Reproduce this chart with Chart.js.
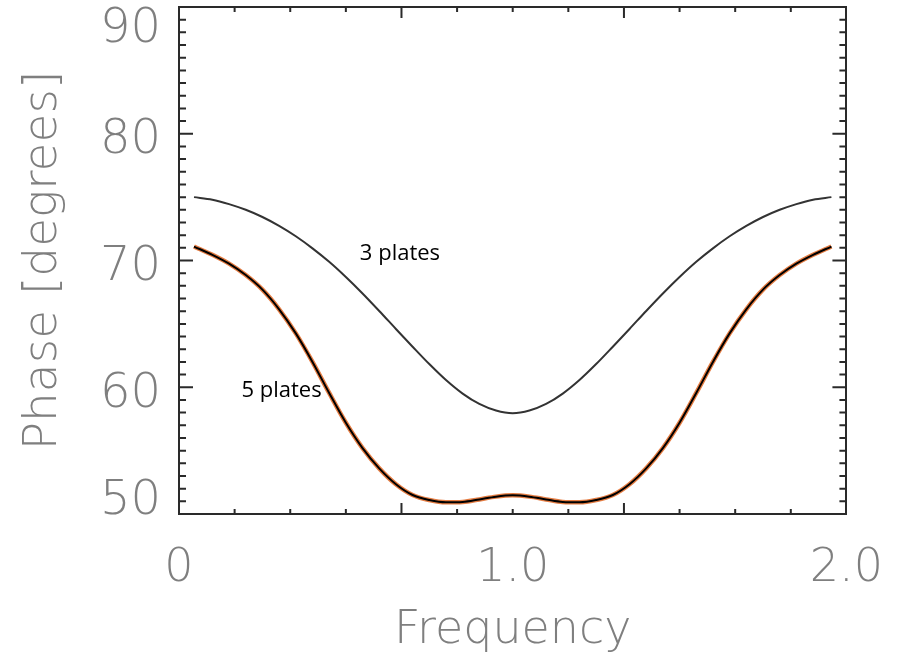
<!DOCTYPE html>
<html>
<head>
<meta charset="utf-8">
<script src="https://cdn.jsdelivr.net/npm/chart.js@4.4.0/dist/chart.umd.min.js"></script>
<style>
html,body{margin:0;padding:0;background:#fff}
#wrap{width:910px;height:659px}
</style>
</head>
<body>
<div id="wrap"><canvas id="chartPhase" width="910" height="659"></canvas></div>
<script>
// frequency samples and phase
const freq=[0.045,0.1,0.15,0.2,0.25,0.3,0.35,0.4,0.45,0.5,0.55,0.6,0.65,0.7,0.75,0.8,0.85,0.9,0.95,1.0,
    1.05,1.1,1.15,1.2,1.25,1.3,1.35,1.4,1.45,1.5,1.55,1.6,1.65,1.7,1.75,1.8,1.85,1.9,1.955];
const phase3=[75.0,74.8,74.45,74.0,73.43,72.73,71.91,70.96,69.9,68.7,67.4,66.02,64.6,63.2,61.83,60.57,59.5,58.68,58.16,57.95,
    58.16,58.68,59.5,60.57,61.83,63.2,64.6,66.02,67.4,68.7,69.9,70.96,71.91,72.73,73.43,74.0,74.45,74.8,75.0];
const phase5=[71.1,70.45,69.75,68.85,67.7,66.15,64.25,62.0,59.55,57.2,55.2,53.6,52.35,51.5,51.1,50.92,50.95,51.15,51.37,51.47,
    51.37,51.15,50.95,50.92,51.1,51.5,52.35,53.6,55.2,57.2,59.55,62.0,64.25,66.15,67.7,68.85,69.75,70.45,71.1];
const xTickVals=[0,1,2];
const xTickLabels=['0','1.0','2.0'];
const yTickVals=[50,60,70,80,90];
const seriesNames=['3 plates','5 plates'];

const notes=[{text:seriesNames[0],x:0.542,y:70.04},{text:seriesNames[1],x:0.187,y:59.23}];
const FONT='"DejaVu Sans", Lato, sans-serif';
const GREY='#7f7f7f', AXIS='#2a2a2a';
const pts=ys=>freq.map((f,i)=>({x:f,y:ys[i]}));

// inward tick marks on all four sides
const frameTicks={
    id:'frameTicks',
    afterDraw(chart){
        const {ctx,chartArea:a,scales:{x,y}}=chart;
        ctx.save();ctx.strokeStyle=AXIS;ctx.lineWidth=2;ctx.beginPath();
        for(let k=1;k<12;k++){
            const px=x.getPixelForValue(x.min+(x.max-x.min)*k/12),len=k%4===0?11:5;
            ctx.moveTo(px,a.bottom);ctx.lineTo(px,a.bottom-len);
            ctx.moveTo(px,a.top);ctx.lineTo(px,a.top+len);
        }
        for(let v=y.min+1;v<y.max;v++){
            const py=y.getPixelForValue(v),len=v%10===0?14:7;
            ctx.moveTo(a.left,py);ctx.lineTo(a.left+len,py);
            ctx.moveTo(a.right,py);ctx.lineTo(a.right-len,py);
        }
        ctx.stroke();ctx.restore();
    }
};

// y tick labels, end labels kept inside the frame
const yLabels={
    id:'yLabels',
    afterDraw(chart){
        const {ctx,chartArea:a,scales:{y}}=chart;
        const cap=35;
        ctx.save();ctx.font='200 48px '+FONT;ctx.fillStyle=GREY;ctx.textAlign='right';ctx.textBaseline='alphabetic';
        yTickVals.forEach(v=>{
            let c=y.getPixelForValue(v)+2;
            c=Math.min(Math.max(c,a.top+cap/2),a.bottom-cap/2);
            ctx.fillText(String(v),a.left-18,c+cap/2);
        });
        ctx.restore();
    }
};

const curveNotes={
    id:'curveNotes',
    afterDatasetsDraw(chart){
        const {ctx,scales:{x,y}}=chart;
        ctx.save();ctx.font='22px "Open Sans", sans-serif';ctx.fillStyle='#000';ctx.textBaseline='alphabetic';
        notes.forEach(n=>ctx.fillText(n.text,x.getPixelForValue(n.x),y.getPixelForValue(n.y)));
        ctx.restore();
    }
};

const hidden={ticks:{display:false},grid:{display:false,drawTicks:false},border:{color:AXIS,width:2}};

new Chart(document.getElementById('chartPhase'),{
    type:'line',
    data:{datasets:[
        {label:seriesNames[1],data:pts(phase5),borderColor:'#000',borderWidth:2,order:1},
        {label:seriesNames[1]+' edge',data:pts(phase5),borderColor:'rgba(225,110,45,0.9)',borderWidth:4.5,order:2},
        {label:seriesNames[0],data:pts(phase3),borderColor:'#333',borderWidth:2,order:3}
    ]},
    options:{
        responsive:false,animation:false,events:[],
        layout:{padding:{top:7,right:45,left:0,bottom:0}},
        elements:{point:{radius:0},line:{cubicInterpolationMode:'monotone',fill:false}},
        plugins:{legend:{display:false},tooltip:{enabled:false}},
        scales:{
            x:{type:'linear',min:0,max:2,position:'bottom',
                afterBuildTicks:s=>{s.ticks=xTickVals.map(v=>({value:v}));},
                afterFit:s=>{s.height=145;},
                ticks:{callback:(v,i)=>xTickLabels[i],color:GREY,font:{family:FONT,size:46,weight:200},padding:27,maxRotation:0,autoSkip:false},
                grid:{display:false,drawTicks:false},
                border:{color:AXIS,width:2},
                title:{display:true,text:'Frequency',color:GREY,font:{family:FONT,size:46,weight:200},padding:{top:0,bottom:0}}},
            x2:{type:'linear',min:0,max:2,position:'top',...hidden},
            y:{type:'linear',min:50,max:90,position:'left',
                afterFit:s=>{s.width=179;},
                ticks:{display:false},grid:{display:false,drawTicks:false},
                border:{color:AXIS,width:2},
                title:{display:true,text:'Phase [degrees]',color:GREY,font:{family:FONT,size:47,weight:200},padding:{top:16,bottom:0}}},
            y2:{type:'linear',min:50,max:90,position:'right',...hidden}
        }
    },
    plugins:[frameTicks,yLabels,curveNotes]
});
</script>
</body>
</html>
